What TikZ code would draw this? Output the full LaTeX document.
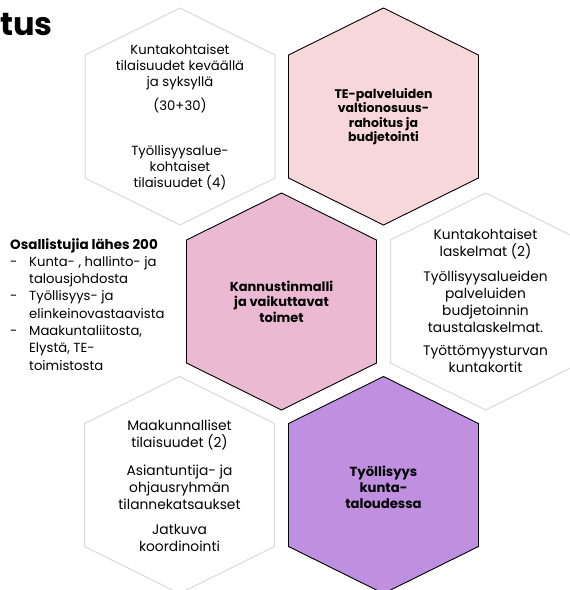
\documentclass[tikz,border=0pt]{standalone}
\usepackage{fontspec}
\setmainfont{Poppins}
\definecolor{hexgray}{HTML}{D9D9D9}
\definecolor{pinkB}{HTML}{F8D7DA}
\definecolor{pinkC}{HTML}{EBB9D2}
\definecolor{purpleF}{HTML}{BF8FE0}
\tikzset{
  hex/.pic={\path[pic actions] (0,-108.5) -- (95,-61.5) -- (95,61.5) -- (0,108.5) -- (-95,61.5) -- (-95,-61.5) -- cycle;},
  plainhex/.style={draw=hexgray, line width=1pt, fill=white},
  keyhex/.style={draw=black, line width=0.9pt},
  body/.style={align=center, inner sep=0pt, font=\fontsize{13.8}{17}\selectfont},
  bodyA/.style={align=center, inner sep=0pt, font=\fontsize{13.2}{16}\selectfont},
  bold/.style={align=center, inner sep=0pt},
  listtext/.style={align=left, inner sep=0pt, anchor=north west, font=\fontsize{13.2}{17.3}\selectfont},
}
\newcommand{\dashitem}{\makebox[19pt][l]{-}}
\newcommand{\cont}{\hspace*{19pt}}
\begin{document}
\begin{tikzpicture}[x=1pt,y=-1pt]
\useasboundingbox (0,0) rectangle (570,590);
% hexagons
\pic[plainhex] at (180,116.5) {hex};
\pic[keyhex, fill=pinkB] at (383.5,116.5) {hex};
\pic[keyhex, fill=pinkC] at (281.5,301.5) {hex};
\pic[plainhex] at (485.5,301.5) {hex};
\pic[plainhex] at (179.5,485) {hex};
\pic[keyhex, fill=purpleF] at (383.5,485) {hex};
% title
\node[anchor=base west, inner sep=0pt, font=\fontsize{32}{36}\selectfont\bfseries] (title) at (0,35) {tus};
% hex A
\node[bodyA] (a1) at (180,67.5) {Kuntakohtaiset\\tilaisuudet keväällä\\ja syksyllä};
\node[bodyA] (a2) at (180,106) {(30+30)};
\node[bodyA] (a3) at (180,167.5) {Työllisyysalue-\\kohtaiset\\tilaisuudet (4)};
% hex B
\node[bold, font=\fontsize{12.5}{14.5}\selectfont\bfseries] (b) at (383.5,116.5) {TE-palveluiden\\valtionosuus-\\rahoitus ja\\budjetointi};
% hex C
\node[bold, font=\fontsize{13}{15.5}\selectfont\bfseries] (c) at (281.5,301.5) {Kannustinmalli\\ja vaikuttavat\\toimet};
% hex D
\node[body] (d1) at (485.5,244) {Kuntakohtaiset\\laskelmat (2)};
\node[body] (d2) at (485.5,301.5) {Työllisyysalueiden\\palveluiden\\budjetoinnin\\taustalaskelmat.};
\node[body] (d3) at (485.5,359) {Työttömyysturvan\\kuntakortit};
% hex E
\node[body] (e1) at (179.5,435) {Maakunnalliset\\tilaisuudet (2)};
\node[body] (e2) at (179.5,487) {Asiantuntija- ja\\ohjausryhmän\\tilannekatsaukset};
\node[body] (e3) at (179.5,537.5) {Jatkuva\\koordinointi};
% hex F
\node[bold, font=\fontsize{13.2}{16}\selectfont\bfseries] (f) at (383.5,487) {Työllisyys\\kunta-\\taloudessa};
% left list
\node[listtext] (l) at (10,238) {{\fontsize{13.5}{17.3}\selectfont\bfseries Osallistujia lähes 200}\\
\dashitem Kunta- , hallinto- ja\\
\cont talousjohdosta\\
\dashitem Työllisyys- ja\\
\cont elinkeinovastaavista\\
\dashitem Maakuntaliitosta,\\
\cont Elystä, TE-\\
\cont toimistosta};
\end{tikzpicture}
\end{document}
